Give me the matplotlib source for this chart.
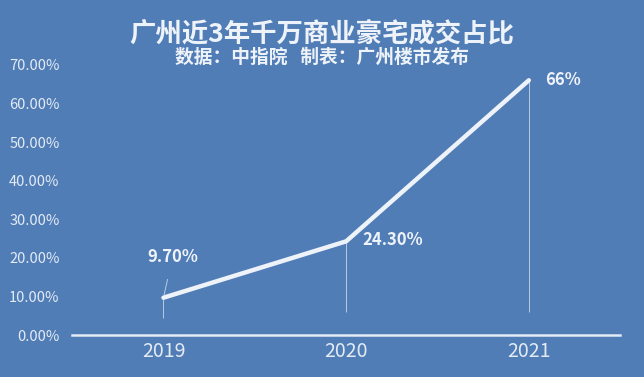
import matplotlib.pyplot as plt
import numpy as np

plt.rcParams['font.family'] = ['Noto Sans CJK SC', 'DejaVu Sans']

# Données
annees = ['2019', '2020', '2021']
parts = [9.70, 24.30, 66.0]
etiquettes = ['9.70%', '24.30%', '66%']
yticks = [0, 10, 20, 30, 40, 50, 60, 70]

fond = '#517db6'
blanc = '#eef3fa'

fig = plt.figure(figsize=(6.44, 3.77), dpi=100, facecolor=fond)
ax = fig.add_axes([0.112, 0.111, 0.851, 0.717], facecolor=fond)

x = np.arange(len(annees))
ax.plot(x, parts, color=blanc, lw=3.2, solid_capstyle='round', zorder=3)

# traits verticaux fins sous les points
ax.vlines(x, [4.5, 6, 6], parts, color='#b8cbe4', lw=0.7, zorder=2)

# étiquettes
ax.annotate(etiquettes[0], (x[0], parts[0]), xytext=(x[0] + 0.05, 20.3),
            color=blanc, fontsize=12, fontweight='bold', ha='center', va='center',
            arrowprops=dict(arrowstyle='-', color='#b8cbe4', lw=0.7, shrinkA=8, shrinkB=2))
ax.text(x[1] + 0.09, 24.6, etiquettes[1], color=blanc, fontsize=12,
        fontweight='bold', ha='left', va='center')
ax.text(x[2] + 0.09, 66.0, etiquettes[2], color=blanc, fontsize=12,
        fontweight='bold', ha='left', va='center')

ax.set_xlim(-0.5, 2.5)
ax.set_ylim(0, 70)
ax.set_xticks(x)
ax.set_xticklabels(annees)
ax.set_yticks(yticks)
ax.set_yticklabels([f'{v:.2f}%' for v in yticks])
ax.tick_params(axis='both', length=0, colors='#e3ebf5')
ax.tick_params(axis='x', labelsize=14, pad=4)
ax.tick_params(axis='y', labelsize=10.5, pad=9)

for s in ['top', 'right', 'left']:
    ax.spines[s].set_visible(False)
ax.spines['bottom'].set_color('#e3ebf5')
ax.spines['bottom'].set_linewidth(1.8)

fig.text(0.5, 0.91, '广州近3年千万商业豪宅成交占比', color=blanc, fontsize=19,
         fontweight='bold', ha='center', va='center')
fig.text(0.5, 0.849, '数据：中指院   制表：广州楼市发布', color=blanc, fontsize=13.5,
         fontweight='bold', ha='center', va='center')

fig.savefig('out.png', dpi=100, facecolor=fond)
